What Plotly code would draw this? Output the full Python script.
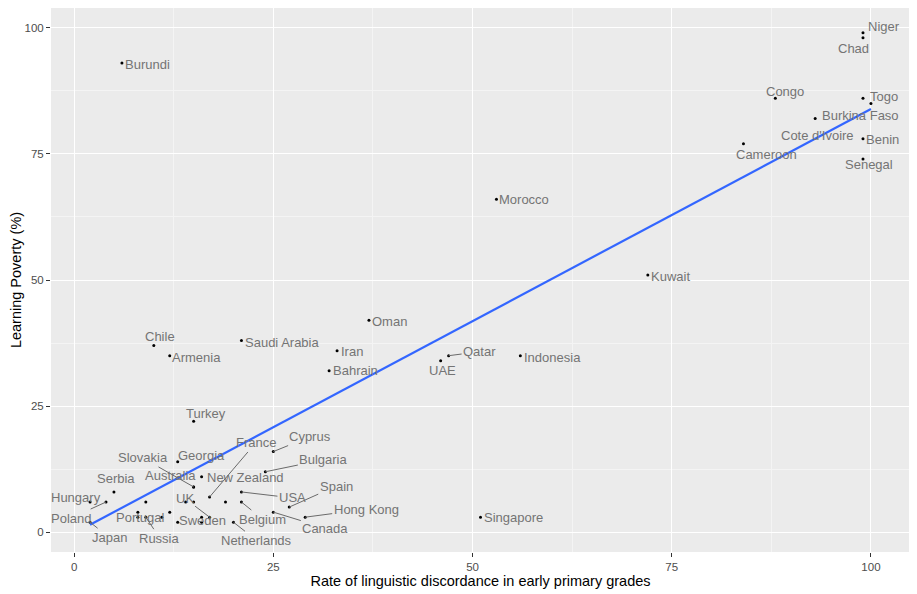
import numpy as np
import plotly.graph_objects as go

#  data (integers in the source)
countries = ["Burundi", "Niger", "Chad", "Congo", "Togo", "Burkina Faso", "Cote d'Ivoire",
             "Benin", "Senegal", "Cameroon", "Morocco", "Kuwait", "Oman", "Iran", "Bahrain",
             "Qatar", "UAE", "Indonesia", "Chile", "Armenia", "Saudi Arabia", "Turkey",
             "Singapore", "Georgia", "Slovakia", "Australia", "New Zealand", "France", "UK",
             "Sweden", "Portugal", "Russia", "Netherlands", "Belgium", "USA", "Bulgaria",
             "Cyprus", "Canada", "Spain", "Hong Kong", "Serbia", "Hungary", "Poland", "Japan",
             "", "", "", "", "", "", "", "", ""]
discordance = [6, 99, 99, 88, 99, 100, 93,
               99, 99, 84, 53, 72, 37, 33, 32,
               47, 46, 56, 10, 12, 21, 15,
               51, 13, 15, 15, 16, 17, 17,
               16, 8, 9, 20, 21, 21, 24,
               25, 25, 27, 29, 5, 2, 4, 2,
               14, 15, 16, 13, 12, 19, 9, 8, 11]
poverty = [93, 99, 98, 86, 86, 85, 82,
           78, 74, 77, 66, 51, 42, 36, 32,
           35, 34, 35, 37, 35, 38, 22,
           3, 14, 9, 9, 11, 7, 3,
           2, 3, 3, 2, 6, 8, 12,
           16, 4, 5, 3, 8, 6, 6, 2,
           6, 6, 3, 2, 4, 6, 6, 4, 3]

#  label placement (pixel offset of the label centre from its point, segment or not)
label_pos = {
    "Burundi": (26, 1, False), "Niger": (21, -6, False), "Chad": (-9, 11, False),
    "Congo": (10, -7, False), "Togo": (21, -2, False), "Burkina Faso": (-10, 12, False),
    "Cote d'Ivoire": (2, 17, False), "Benin": (20, 1, False), "Senegal": (6, 6, False),
    "Cameroon": (23, 11, False), "Morocco": (28, 0, False), "Kuwait": (23, 2, False),
    "Oman": (21, 1, False), "Iran": (15, 1, False), "Bahrain": (26, 0, False),
    "Qatar": (31, -4, True), "UAE": (2, 10, False), "Indonesia": (32, 2, False),
    "Chile": (6, -9, False), "Armenia": (27, 2, False), "Saudi Arabia": (41, 2, False),
    "Turkey": (12, -8, False), "Singapore": (33, 0, False), "Georgia": (24, -6, False),
    "Slovakia": (-51, -29, True), "Australia": (-23, -11, False),
    "New Zealand": (44, 1, False), "France": (46, -54, True), "UK": (-25, -19, True),
    "Sweden": (1, -2, False), "Portugal": (3, 0, False), "Russia": (14, 21, True),
    "Netherlands": (23, 18, True), "Belgium": (21, 17, True), "USA": (51, 6, True),
    "Bulgaria": (58, -12, True), "Cyprus": (37, -15, True), "Canada": (52, 16, True),
    "Spain": (47, -21, True), "Hong Kong": (61, -8, True), "Serbia": (2, -13, False),
    "Hungary": (-14, -5, False), "Poland": (-35, 16, True), "Japan": (19, 15, True),
}

x = np.array(discordance, dtype=float)
y = np.array(poverty, dtype=float)
slope, intercept = np.polyfit(x, y, 1)
fit_x = np.array([x.min(), x.max()])
fit_y = intercept + slope * fit_x

fig = go.Figure()
fig.add_trace(go.Scatter(x=x, y=y, mode="markers", marker=dict(color="black", size=3),
                         hoverinfo="skip"))
fig.add_trace(go.Scatter(x=fit_x, y=fit_y, mode="lines",
                         line=dict(color="#3366FF", width=2.2), hoverinfo="skip"))

for name, cx, cy in zip(countries, discordance, poverty):
  if not name:
    continue
  dx, dy, seg = label_pos[name]
  if seg:
    fig.add_annotation(x=cx, y=cy, ax=dx, ay=dy, text=name, showarrow=True,
                       arrowhead=0, arrowwidth=1, arrowcolor="#6a6a6a", standoff=0,
                       font=dict(size=13, color="#747474"))
  else:
    fig.add_annotation(x=cx, y=cy, xshift=dx, yshift=-dy, text=name, showarrow=False,
                       font=dict(size=13, color="#747474"))

axis_style = dict(showgrid=True, gridcolor="white", gridwidth=1.1, zeroline=False,
                  ticks="outside", ticklen=4, tickcolor="#333333", tickwidth=1,
                  tickfont=dict(size=11.5, color="#4d4d4d"), showline=False,
                  automargin=False,
                  minor=dict(showgrid=True, gridcolor="#f4f4f4", gridwidth=0.5, ticks=""))

#  the page body has an 8px margin, so the figure is a bit smaller and pulled up-left
fig.update_layout(
  width=909, height=586,
  margin=dict(l=43, r=7, t=0, b=42),
  plot_bgcolor="#EBEBEB", paper_bgcolor="white",
  showlegend=False,
  font=dict(family="Liberation Sans, Arial, sans-serif"),
  xaxis=dict(range=[-2.9, 104.9], tickvals=[0, 25, 50, 75, 100], dtick=25,
             title=dict(text="Rate of linguistic discordance in early primary grades",
                        font=dict(size=14.5, color="black"), standoff=2),
             **axis_style),
  yaxis=dict(range=[-3.9, 103.9], tickvals=[0, 25, 50, 75, 100], dtick=25,
             title=dict(text="Learning Poverty (%)", font=dict(size=14.5, color="black"),
                        standoff=9),
             **axis_style),
)
fig.update_xaxes(minor=dict(tickvals=[12.5, 37.5, 62.5, 87.5]))
fig.update_yaxes(minor=dict(tickvals=[12.5, 37.5, 62.5, 87.5]))

fig.write_html("out.html")
